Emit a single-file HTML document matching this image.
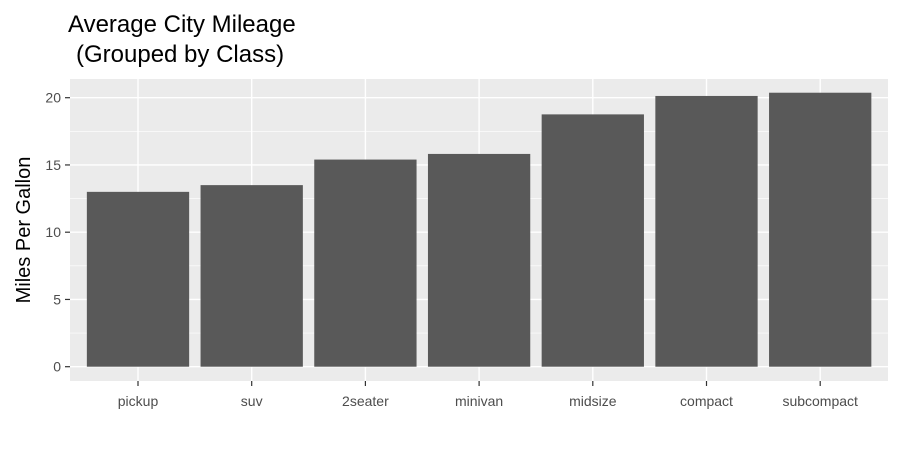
<!DOCTYPE html>
<html><head><meta charset="utf-8"><style>
body{margin:0;background:#fff;}
svg text{font-family:"Liberation Sans",Arial,sans-serif;}
</style></head><body>
<svg id="chart" width="900" height="450">
<text x="68" y="32" font-size="24" fill="#000">Average City Mileage</text>
<text x="76" y="62" font-size="24" fill="#000">(Grouped by Class)</text>
<text transform="translate(30,230) rotate(-90)" text-anchor="middle" font-size="20" fill="#000">Miles Per Gallon</text>
<rect x="70" y="79" width="818" height="302" fill="#ebebeb"/>
<g id="grid"></g><g id="bars"></g><g id="axes"></g>
</svg>
<script>
const categories=["pickup","suv","2seater","minivan","midsize","compact","subcompact"];
const values=[13.0,13.5,15.4,15.82,18.76,20.13,20.37];
const yTicks=[0,5,10,15,20];
const yMinor=[2.5,7.5,12.5,17.5];
const NS="http://www.w3.org/2000/svg";
const y0=366.7,yScale=13.45;
function yPos(v){return y0-v*yScale;}
function xPos(i){return 138+i*113.7;}
const bw=102.3;
function mk(tag,attrs,parent){const e=document.createElementNS(NS,tag);for(const k in attrs)e.setAttribute(k,attrs[k]);document.getElementById(parent).appendChild(e);return e;}
yMinor.forEach(v=>{const l=mk("line",{x1:70,x2:888,y1:yPos(v),y2:yPos(v),stroke:"#fff","stroke-width":0.7},"grid");

});
yTicks.forEach(v=>{const l=mk("line",{x1:70,x2:888,y1:yPos(v),y2:yPos(v),stroke:"#fff","stroke-width":1.4},"grid");


const t=mk("line",{x1:65,x2:70,y1:yPos(v),y2:yPos(v),stroke:"#333","stroke-width":1.2},"axes");


const tx=mk("text",{x:61,y:yPos(v)+5,"text-anchor":"end","font-size":14,fill:"#4d4d4d"},"axes");
tx.textContent=v;

});
categories.forEach((c,i)=>{const x=xPos(i);
const g=mk("line",{x1:x,x2:x,y1:79,y2:381,stroke:"#fff","stroke-width":1.4},"grid");


const b=mk("rect",{x:x-bw/2,y:yPos(values[i]),width:bw,height:values[i]*yScale,fill:"#595959"},"bars");


const t=mk("line",{x1:x,x2:x,y1:381,y2:386,stroke:"#333","stroke-width":1.2},"axes");


const tx=mk("text",{x:x,y:406,"text-anchor":"middle","font-size":14,fill:"#4d4d4d"},"axes");
tx.textContent=c;

});
</script>
</body></html>
